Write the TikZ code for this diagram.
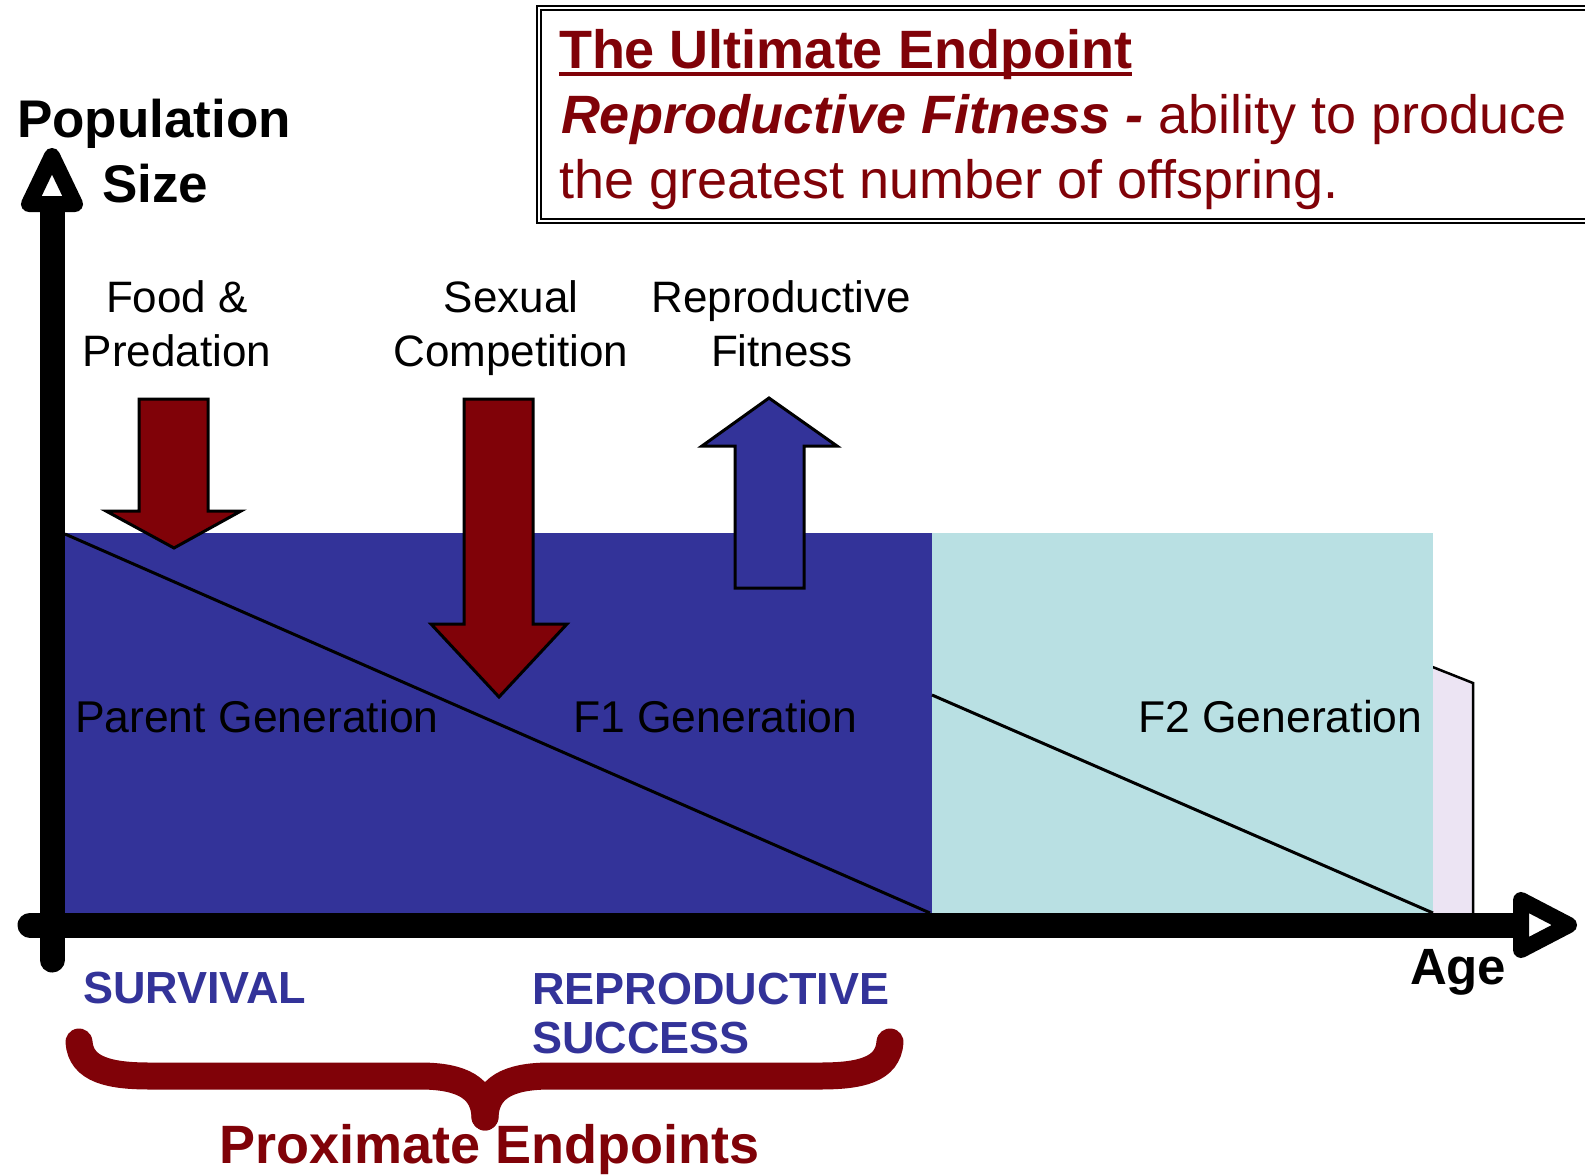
\documentclass[tikz,border=0pt]{standalone}
\usepackage{fontspec}
\setmainfont{Liberation Sans}
\definecolor{dred}{RGB}{128,2,8}
\definecolor{pblue}{RGB}{51,51,153}
\definecolor{lcyan}{RGB}{185,224,227}
\definecolor{lav}{RGB}{236,228,243}
\newcommand\fReg{\fontsize{44}{52}\selectfont}
\newcommand\fGen{\fontsize{44.5}{52}\selectfont}
\newcommand\fBox{\fontsize{54}{64}\selectfont}
\newcommand\fAxis{\fontsize{53}{60}\selectfont\bfseries}
\newcommand\fCaps{\fontsize{45}{52}\selectfont\bfseries}
\begin{document}
\begin{tikzpicture}[x=1pt,y=-1pt,
  txt/.style={inner sep=0pt,outer sep=0pt},
  blockarrow/.style={draw=black,line width=3pt,line join=miter},
  axisline/.style={line width=25pt,line cap=round},
  axishead/.style={draw=black,fill=white,line width=16pt,line join=round},
  diag/.style={line width=3pt},
  bracestyle/.style={draw=dred,line width=27pt,line cap=round},
  framebox/.style={draw=black,line width=2pt}]
\useasboundingbox (0,0) rectangle (1585,1175);

% ultimate endpoint box
\draw[framebox] (537,6) rectangle (1600,223);
\draw[framebox] (541,10) rectangle (1600,219);
\node[txt,anchor=base west,text=dred,font=\fBox\bfseries] (t1) at (559,68) {The Ultimate Endpoint};
\draw[dred,line width=4pt] ([yshift=-6pt]t1.base west) -- ([yshift=-6pt]t1.base east);
\node[txt,anchor=base west,text=dred,font=\fBox] (t2) at (561,133) {\textbf{\textit{Reproductive Fitness -}} ability to produce};
\node[txt,anchor=base west,text=dred,font=\fBox] (t3) at (559,198) {the greatest number of offspring.};

% generation areas
\fill[lav] (1420,662) -- (1473,683) -- (1473,913) -- (1420,913) -- cycle;
\draw[line width=2.5pt] (1420,662) -- (1473,683) -- (1473,915);
\fill[lcyan] (932,533) rectangle (1433,925);
\fill[pblue] (60,533) rectangle (932,925);
\coordinate (d1s) at (65,534);
\coordinate (d1e) at (930,913);
\coordinate (d2s) at (932,695);
\coordinate (d2e) at (1433,913);
\draw[diag] (d1s) -- (d1e);
\draw[diag] (d2s) -- (d2e);

% block arrows
\draw[blockarrow,fill=dred] (139,399) -- (208,399) -- (208,511) -- (241,511) -- (174,548) -- (106,511) -- (139,511) -- cycle;
\draw[blockarrow,fill=dred] (464,399) -- (533,399) -- (533,624) -- (567,624) -- (499,697) -- (431,624) -- (464,624) -- cycle;
\draw[blockarrow,fill=pblue] (735,588) -- (804,588) -- (804,446) -- (837,446) -- (769,398) -- (702,446) -- (735,446) -- cycle;

% axes
\coordinate (yb) at (52,960);
\coordinate (yt) at (52,206);
\coordinate (xl) at (30,925);
\coordinate (xr) at (1522,925);
\draw[axisline] (yb) -- (yt);
\draw[axisline] (xl) -- (xr);
\draw[axishead] (52,156) -- (29,204) -- (75,204) -- cycle;
\draw[axishead] (1569,925) -- (1521,900) -- (1521,950) -- cycle;

% axis labels
\node[txt,anchor=base west,font=\fAxis] (pop) at (17,137) {Population};
\node[txt,anchor=base west,font=\fAxis] (size) at (102,202) {Size};
\node[txt,anchor=base west,font=\fontsize{51}{58}\selectfont\bfseries] (age) at (1410,984) {Age};

% factor labels
\node[txt,anchor=base,font=\fReg] (food1) at (177,312) {Food \&};
\node[txt,anchor=base,font=\fReg] (food2) at (177,366) {Predation};
\node[txt,anchor=base,font=\fReg] (sex1) at (511,312) {Sexual};
\node[txt,anchor=base,font=\fReg] (sex2) at (511,366) {Competition};
\node[txt,anchor=base,font=\fReg] (rep1) at (781,312) {Reproductive};
\node[txt,anchor=base,font=\fReg] (rep2) at (782,366) {Fitness};

% generation labels
\node[txt,anchor=base west,font=\fGen] (gp) at (75,732) {Parent Generation};
\node[txt,anchor=base west,font=\fGen] (g1) at (573,732) {F1 Generation};
\node[txt,anchor=base west,font=\fGen] (g2) at (1138,732) {F2 Generation};

% proximate endpoints
\node[txt,anchor=base west,text=pblue,font=\fCaps] (surv) at (83,1003) {SURVIVAL};
\node[txt,anchor=base west,text=pblue,font=\fCaps] (rs1) at (532,1004) {REPRODUCTIVE};
\node[txt,anchor=base west,text=pblue,font=\fCaps] (rs2) at (532,1053) {SUCCESS};
\draw[bracestyle] (79,1042) .. controls (81,1070) and (110,1076) .. (150,1076) -- (420,1076) .. controls (462,1076) and (484,1088) .. (485,1117);
\draw[bracestyle] (890,1042) .. controls (888,1070) and (860,1076) .. (820,1076) -- (550,1076) .. controls (508,1076) and (486,1088) .. (485,1117);
\node[txt,anchor=base west,text=dred,font=\fontsize{54}{60}\selectfont\bfseries] (prox) at (219,1163) {Proximate Endpoints};
\end{tikzpicture}
\end{document}
